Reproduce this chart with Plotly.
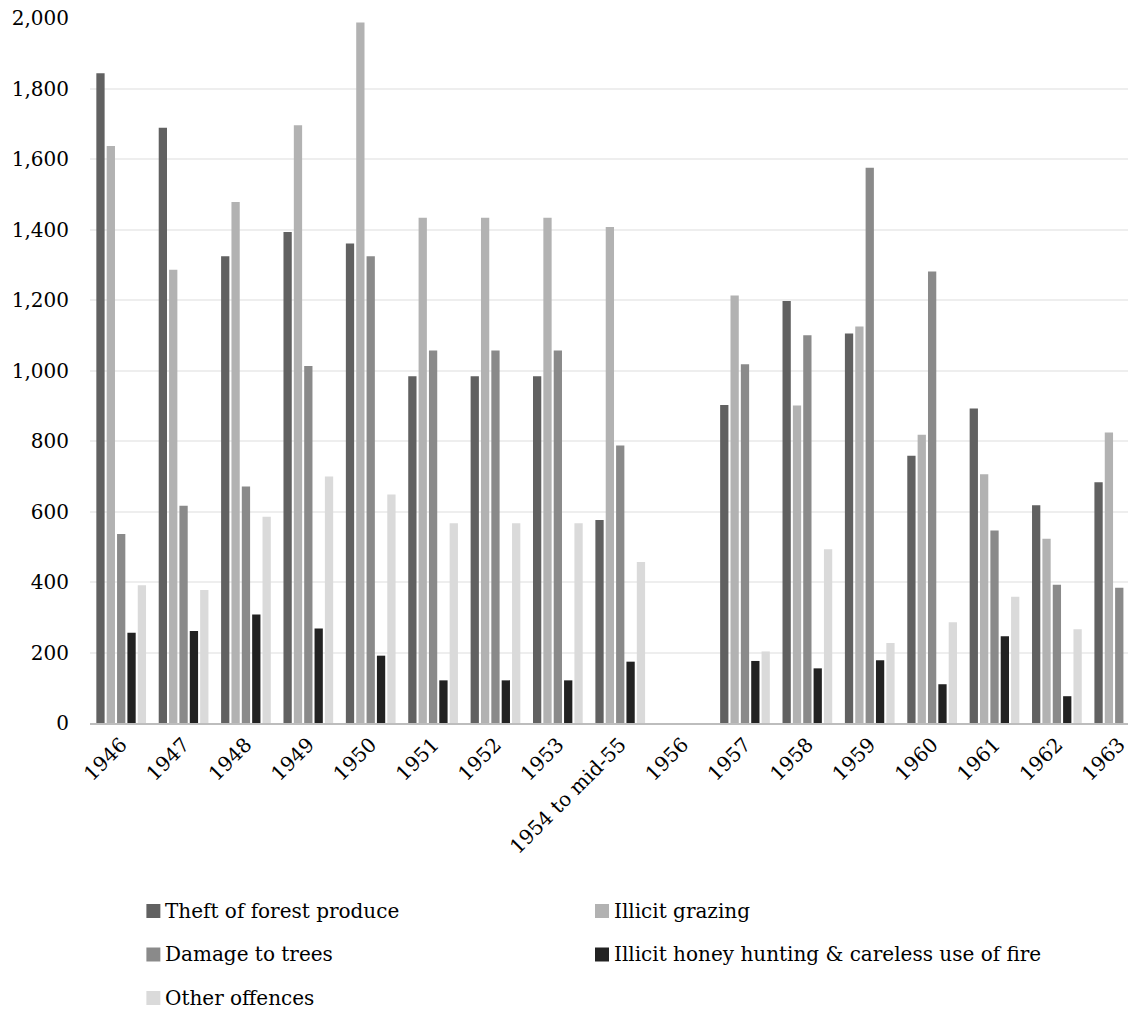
import plotly.graph_objects as go

# Recorded offences by year and type
categories = ["1946", "1947", "1948", "1949", "1950", "1951", "1952", "1953",
              "1954 to mid-55", "1956", "1957", "1958", "1959", "1960", "1961",
              "1962", "1963"]
theft = [1843, 1689, 1324, 1393, 1360, 984, 984, 984, 576, 0, 902, 1197, 1105,
         758, 892, 618, 683]
grazing = [1637, 1286, 1478, 1696, 1987, 1433, 1433, 1433, 1407, 0, 1213, 901,
           1125, 818, 706, 523, 824]
damage = [536, 616, 671, 1013, 1324, 1057, 1057, 1057, 787, 0, 1018, 1100, 1575,
          1281, 546, 392, 384]
honey = [256, 261, 308, 268, 191, 121, 121, 121, 174, 0, 176, 155, 178, 110,
         246, 76, None]
other = [391, 377, 585, 699, 648, 567, 567, 567, 457, 0, 203, 493, 227, 286,
         358, 266, None]

series_names = ["Theft of forest produce", "Illicit grazing", "Damage to trees",
                "Illicit honey hunting & careless use of fire", "Other offences"]
series_values = [theft, grazing, damage, honey, other]
series_colors = ["#616161", "#b2b2b2", "#8a8a8a", "#222222", "#dadada"]

FONT = "DejaVu Serif"
W, H = 1130, 1010
ML, MR, MT, MB = 90, 0, 18, 287
plot_w = W - ML - MR
plot_h = H - MT - MB

fig = go.Figure()
for name, vals, col in zip(series_names, series_values, series_colors):
    fig.add_trace(go.Bar(x=categories, y=vals, name=name,
                         marker=dict(color=col, line=dict(width=0)),
                         showlegend=False))

# category pitch ~62.5 px; the last group runs off the right edge
cat_px = 62.5
x_end = -0.5 + plot_w / cat_px

fig.update_layout(
    width=W, height=H,
    margin=dict(l=ML, r=MR, t=MT, b=MB),
    paper_bgcolor="white", plot_bgcolor="white",
    barmode="group", bargap=0.17, bargroupgap=0.2,
    font=dict(family=FONT, size=20, color="#000000"),
    xaxis=dict(type="category", range=[-0.5, x_end], tickangle=-45,
               showgrid=False, showline=True, linecolor="#bdbdbd",
               linewidth=2, ticks="", tickfont=dict(family=FONT, size=20)),
    yaxis=dict(range=[0, 2000], dtick=200, tickformat=",", showgrid=True,
               gridcolor="#eeeeee", gridwidth=1.5, zeroline=False,
               showline=False, ticks="", ticklabelstandoff=20,
               tickfont=dict(family=FONT, size=20)),
)

# two-column legend beneath the axis labels
def px_to_paper(px, py):
    return (px - ML) / plot_w, (H - MB - py) / plot_h

legend_slots = [(146.5, 911), (596, 911), (146.5, 954.5), (596, 954.5), (146.5, 998)]
sq = 14
for (lx, ly), name, col in zip(legend_slots, series_names, series_colors):
    x0, y0 = px_to_paper(lx, ly + sq / 2)
    x1, y1 = px_to_paper(lx + sq, ly - sq / 2)
    fig.add_shape(type="rect", xref="paper", yref="paper",
                  x0=x0, y0=y0, x1=x1, y1=y1,
                  fillcolor=col, line=dict(width=0))
    tx, ty = px_to_paper(lx + sq + 3, ly)
    fig.add_annotation(x=tx, y=ty, xref="paper", yref="paper", text=name,
                       showarrow=False, xanchor="left", yanchor="middle",
                       font=dict(family=FONT, size=20, color="#000000"))

fig.write_html("out.html")
